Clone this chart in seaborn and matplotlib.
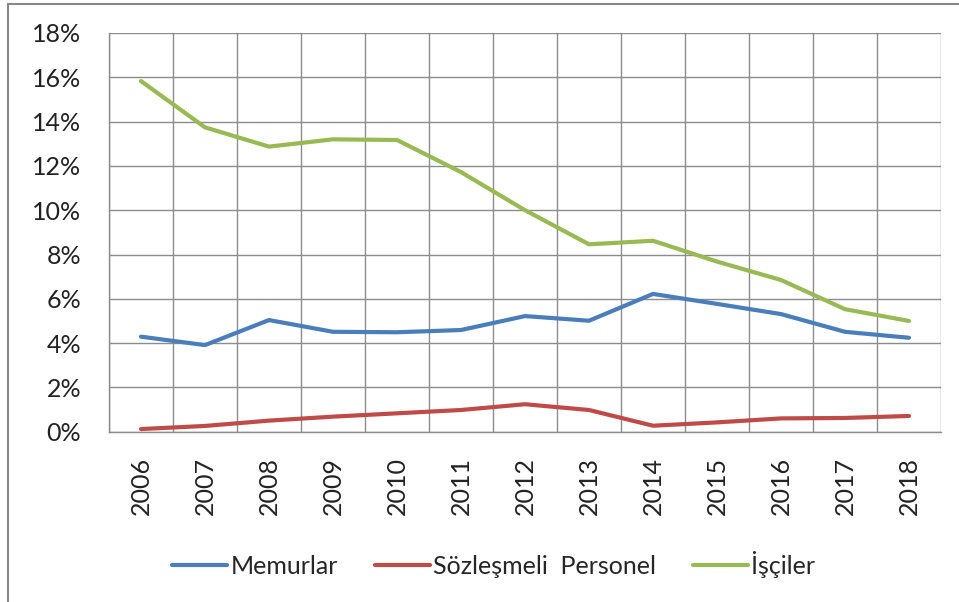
import pandas as pd
import matplotlib.pyplot as plt
import seaborn as sns
from matplotlib.patches import Rectangle
from matplotlib.ticker import FixedLocator, PercentFormatter

# ============================
# 데이터
# ============================
years = ["2006", "2007", "2008", "2009", "2010", "2011", "2012",
         "2013", "2014", "2015", "2016", "2017", "2018"]

memurlar = [4.29, 3.91, 5.04, 4.51, 4.49, 4.59, 5.22,
            5.01, 6.22, 5.77, 5.31, 4.51, 4.24]
sozlesmeli = [0.12, 0.26, 0.50, 0.68, 0.83, 0.98, 1.24,
              0.98, 0.27, 0.42, 0.60, 0.62, 0.71]
isciler = [15.83, 13.74, 12.87, 13.20, 13.17, 11.72, 10.00,
           8.46, 8.62, 7.68, 6.85, 5.53, 5.00]

series_names = ["Memurlar", "Sözleşmeli  Personel", "İşçiler"]
colors = ["#4a7ebb", "#be4b48", "#98b954"]

df = pd.DataFrame({
    "year": years * 3,
    "value": memurlar + sozlesmeli + isciler,
    "series": [series_names[0]] * 13 + [series_names[1]] * 13 + [series_names[2]] * 13,
})

# ============================
# 그래프
# ============================
sns.set_style("white")
plt.rcParams["font.family"] = ["Lato", "DejaVu Sans"]

fig = plt.figure(figsize=(9.59, 6.02), dpi=100)
ax = fig.add_axes([109 / 959, 1 - 431.7 / 602, 832 / 959, 398.7 / 602])

sns.lineplot(
    data=df, x="year", y="value", hue="series",
    palette=colors, linewidth=3, ax=ax, sort=False
)

grid_c = "#8c8c8c"
ax.set_xlim(-0.5, 12.5)
ax.set_ylim(0, 18)
ax.set_yticks(range(0, 19, 2))
ax.yaxis.set_major_formatter(PercentFormatter(decimals=0))
ax.xaxis.set_minor_locator(FixedLocator([i - 0.5 for i in range(14)]))
ax.set_xticks(range(13))
ax.set_xticklabels(years, rotation=90)

ax.grid(True, which="major", axis="y", color=grid_c, linewidth=1)
ax.grid(True, which="minor", axis="x", color=grid_c, linewidth=1)
ax.grid(False, which="major", axis="x")
ax.set_axisbelow(True)

ax.tick_params(axis="x", which="major", length=0, pad=18, labelsize=18, colors="#222222")
ax.tick_params(axis="x", which="minor", length=8, width=1, color=grid_c, direction="out")
ax.tick_params(axis="y", length=8, width=1, color=grid_c, direction="out", pad=12,
               labelsize=18, labelcolor="#222222")

for s in ["top", "right"]:
    ax.spines[s].set_visible(False)
for s in ["left", "bottom"]:
    ax.spines[s].set_color(grid_c)
    ax.spines[s].set_linewidth(1)

ax.set_xlabel("")
ax.set_ylabel("")

handles, labels = ax.get_legend_handles_labels()
ax.legend_.remove()
fig.legend(
    handles, labels, loc="center", bbox_to_anchor=(0.515, 1 - 564 / 602),
    ncol=3, frameon=False, fontsize=18, handlelength=2.2,
    handletextpad=0.15, columnspacing=1.45
)

# 바깥 테두리
fig.patches.append(Rectangle(
    (8 / 959, -0.1), 1.2, 1.1 - 4 / 602,
    transform=fig.transFigure, fill=False, edgecolor="#888888", linewidth=1.5
))

fig.savefig("out.png", dpi=100)
